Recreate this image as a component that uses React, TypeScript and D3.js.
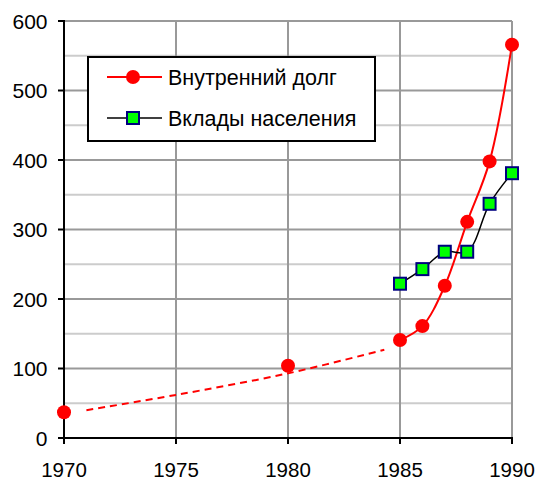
import React from "react";
import * as d3 from "d3";

const debtYears = [1970, 1980, 1985, 1986, 1987, 1988, 1989, 1990];
const debtValues = [37, 104, 141, 161, 219, 311, 398, 566];
const solidYears = [1985, 1986, 1987, 1988, 1989, 1990];
const trendYears = [1971, 1975, 1980, 1984.3];
const trendValues = [40, 62, 93, 127];
const depositYears = [1985, 1986, 1987, 1988, 1989, 1990];
const depositValues = [222, 243, 268, 268, 337, 381];
const xTicks = [1970, 1975, 1980, 1985, 1990];
const yTicks = [0, 100, 200, 300, 400, 500, 600];
const yMinor = [50, 150, 250, 350, 450, 550];
const legendLabels = ["Внутренний долг", "Вклады населения"];

export default function App() {
  const W = 539, H = 482;
  const x = d3.scaleLinear().domain([1970, 1990]).range([64, 512]);
  const y = d3.scaleLinear().domain([0, 600]).range([438, 21]);
  const line = d3.line<[number, number]>().x(d => x(d[0])).y(d => y(d[1])).curve(d3.curveCatmullRom.alpha(0.5));
  const solidPts: [number, number][] = solidYears.map(yr => [yr, debtValues[debtYears.indexOf(yr)]]);
  const trendPts: [number, number][] = trendYears.map((yr, i) => [yr, trendValues[i]]);
  const depPts: [number, number][] = depositYears.map((yr, i) => [yr, depositValues[i]]);
  const font = "Arial, 'Liberation Sans', sans-serif";
  return (
    <svg width={W} height={H} style={{ position: "absolute", left: 0, top: 0 }} fontFamily={font}>
      <rect width={W} height={H} fill="white" />
      {yMinor.map(v => (
        <line key={"m" + v} x1={x(1970)} x2={x(1990)} y1={y(v)} y2={y(v)} stroke="#cccccc" strokeWidth={2} />
      ))}
      {yTicks.filter(v => v > 0).map(v => (
        <line key={"g" + v} x1={x(1970)} x2={x(1990)} y1={y(v)} y2={y(v)} stroke="#999999" strokeWidth={2} />
      ))}
      {xTicks.filter(v => v > 1970).map(v => (
        <line key={"v" + v} x1={x(v)} x2={x(v)} y1={y(0)} y2={y(600)} stroke="#999999" strokeWidth={2} />
      ))}
      <line x1={x(1970)} x2={x(1970)} y1={y(600) - 1} y2={y(0) + 1} stroke="black" strokeWidth={2} />
      <line x1={x(1970) - 1} x2={x(1990) + 1} y1={y(0)} y2={y(0)} stroke="black" strokeWidth={2} />
      {yTicks.map(v => (
        <g key={"yt" + v}>
          <line x1={x(1970) - 6} x2={x(1970)} y1={y(v)} y2={y(v)} stroke="black" strokeWidth={2} />
          <text x={47.5} y={y(v)} dy="0.36em" textAnchor="end" fontSize={21}>{v}</text>
        </g>
      ))}
      {xTicks.map(v => (
        <g key={"xt" + v}>
          <line x1={x(v)} x2={x(v)} y1={y(0)} y2={y(0) + 6} stroke="black" strokeWidth={2} />
          <text x={x(v)} y={476.5} textAnchor="middle" fontSize={20.5}>{v}</text>
        </g>
      ))}
      <path d={line(trendPts) || ""} fill="none" stroke="red" strokeWidth={2} strokeDasharray="7,5" />
      <path d={line(solidPts) || ""} fill="none" stroke="red" strokeWidth={2} />
      <path d={line(depPts) || ""} fill="none" stroke="black" strokeWidth={1.5} />
      {debtYears.map((yr, i) => (
        <circle key={"c" + yr} cx={x(yr)} cy={y(debtValues[i])} r={7} fill="red" />
      ))}
      {depositYears.map((yr, i) => (
        <rect key={"s" + yr} x={x(yr) - 6} y={y(depositValues[i]) - 6} width={12} height={12} fill="#00ff00" stroke="#000080" strokeWidth={2} />
      ))}
      <g>
        <rect x={88} y={57} width={287} height={84} fill="white" stroke="black" strokeWidth={2} />
        <line x1={107} x2={162} y1={77} y2={77} stroke="red" strokeWidth={2} />
        <circle cx={133} cy={77} r={7} fill="red" />
        <text x={168} y={77.5} dy="0.36em" fontSize={21.5}>{legendLabels[0]}</text>
        <line x1={107} x2={162} y1={118} y2={118} stroke="black" strokeWidth={1.5} />
        <rect x={127} y={112} width={12} height={12} fill="#00ff00" stroke="#000080" strokeWidth={2} />
        <text x={168} y={118.5} dy="0.36em" fontSize={21.5}>{legendLabels[1]}</text>
      </g>
    </svg>
  );
}
